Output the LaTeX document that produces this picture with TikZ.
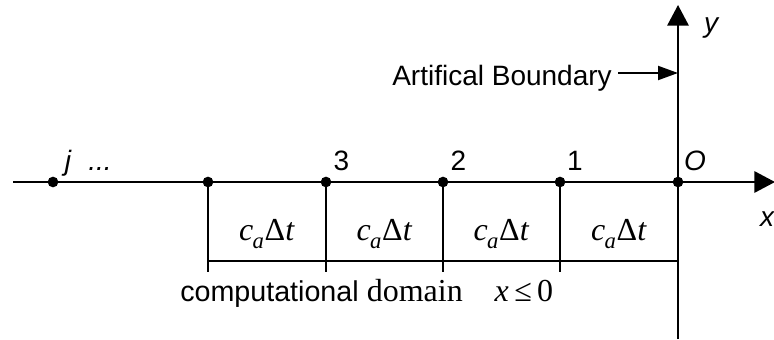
\documentclass[tikz,border=0pt]{standalone}
\usepackage{fontspec}
\setmainfont{Liberation Serif}
\setsansfont{Liberation Sans}
\usetikzlibrary{arrows.meta}
\newcommand{\cadt}{\textit{c}\kern-0.5pt\raisebox{-0.28em}{\fontsize{17}{17}\selectfont\itshape a}\kern0.5pt Δ\textit{t}}
\begin{document}
\begin{tikzpicture}[x=0.75pt,y=-0.75pt,
  axis/.style={line width=1.5pt,-{Triangle[length=15.5pt,width=16pt]}},
  ln/.style={line width=1.5pt},
  bnd/.style={line width=1.5pt,-{Triangle[length=15pt,width=10.5pt]}},
  dot/.style={circle,fill,inner sep=0pt,minimum size=8pt},
  num/.style={font=\fontsize{21}{25}\sffamily, inner sep=0pt},
  sfi/.style={font=\fontsize{21}{25}\sffamily\itshape, inner sep=0pt},
  lab/.style={font=\fontsize{21}{25}\sffamily, inner sep=0pt},
  cell/.style={font=\fontsize{24}{28}\selectfont, inner sep=0pt}]
\useasboundingbox (0,0) rectangle (774,339);
% axes
\coordinate (xl) at (13,182);
\coordinate (xr) at (775,182);
\coordinate (yb) at (678,339);
\coordinate (yt) at (678,5);
\draw[axis] (xl) -- (xr);
\draw[axis] (yb) -- (yt);
% points
\node[dot] (pj) at (53,182) {};
\node[dot] (p4) at (208,182) {};
\node[dot] (p3) at (326,182) {};
\node[dot] (p2) at (443,182) {};
\node[dot] (p1) at (560,182) {};
\node[dot] (p0) at (678,182) {};
% cells
\coordinate (b4) at (208,272);
\coordinate (b3) at (326,272);
\coordinate (b2) at (443,272);
\coordinate (b1) at (560,272);
\coordinate (hl) at (208,261);
\coordinate (hr) at (678,261);
\draw[ln] (p4.center) -- (b4);
\draw[ln] (p3.center) -- (b3);
\draw[ln] (p2.center) -- (b2);
\draw[ln] (p1.center) -- (b1);
\draw[ln] (hl) -- (hr);
\node[cell, anchor=base] (c4) at (267,240) {\cadt};
\node[cell, anchor=base] (c3) at (384.5,240) {\cadt};
\node[cell, anchor=base] (c2) at (501.5,240) {\cadt};
\node[cell, anchor=base] (c1) at (619,240) {\cadt};
% labels
\node[sfi, anchor=base] (lj) at (68,170) {j};
\node[sfi, anchor=base] (ldots) at (100,170) {...};
\node[num, anchor=base] (l3) at (341.5,170) {3};
\node[num, anchor=base] (l2) at (458.5,170) {2};
\node[num, anchor=base] (l1) at (575,170) {1};
\node[sfi, anchor=base] (lO) at (695,170) {O};
\node[sfi, anchor=base] (ly) at (711,32) {y};
\node[sfi, anchor=base] (lx) at (767,226) {x};
% boundary
\node[lab, anchor=base east] (ab) at (612,85) {Artifical Boundary};
\coordinate (abt) at (678,73);
\draw[bnd] (ab.east |- abt) ++(6,0) coordinate (abs) -- (abt);
% domain
\node[anchor=base west, inner sep=0pt] (dom) at (180,301)
  {{\fontsize{21.5}{25}\sffamily computational}\hspace{6pt}{\fontsize{24}{28}\selectfont domain\hspace{24pt}\textit{x}\,≤\,0}};
\end{tikzpicture}
\end{document}
